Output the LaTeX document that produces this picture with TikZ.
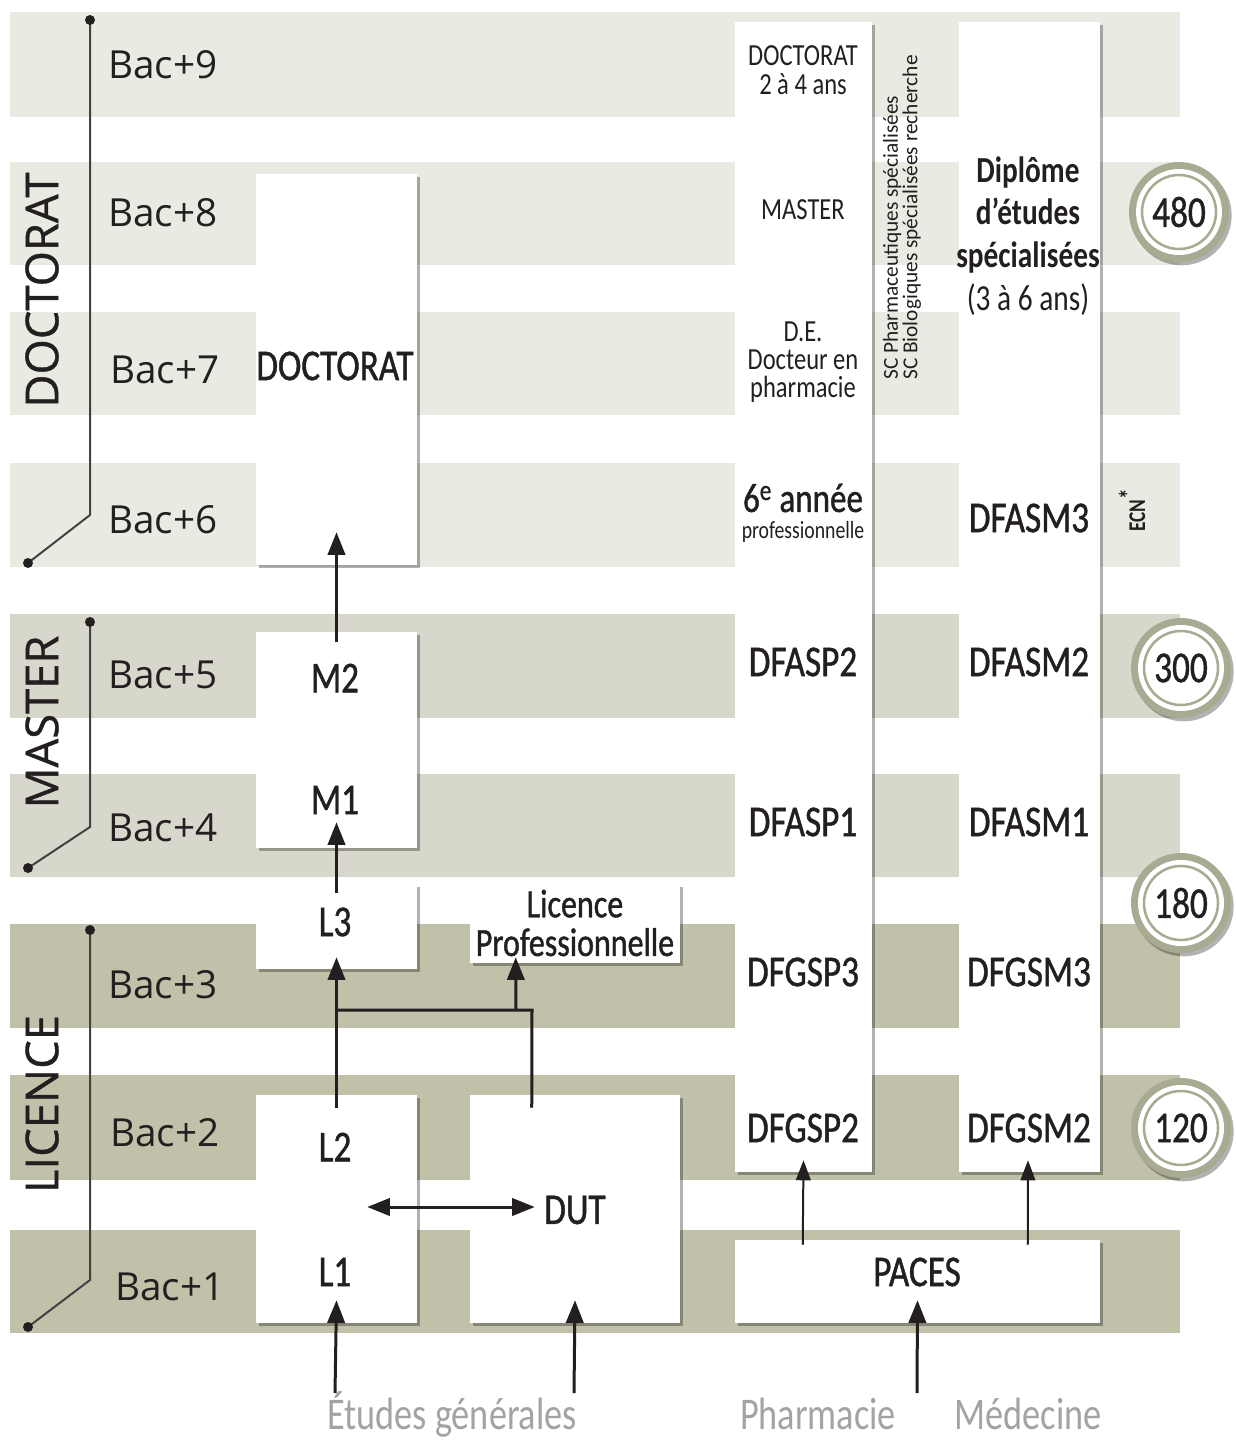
\documentclass[tikz,border=0pt]{standalone}
\usepackage{fontspec}
\setmainfont{Carlito}[FakeStretch=0.8]
\newfontfamily\medfont{Carlito}[FakeStretch=0.8, FakeBold=1.0]
\newfontfamily\widefont{Open Sans}
\newfontfamily\widemed{Open Sans}[FakeBold=0.8]
\newfontfamily\plainfont{Carlito}
\usetikzlibrary{arrows.meta,shadows,fit,calc}
\definecolor{docband}{HTML}{E9EBE2}
\definecolor{masband}{HTML}{D8D7CB}
\definecolor{licband}{HTML}{C1C1A9}
\definecolor{ringcol}{HTML}{A8AA92}
\definecolor{ink}{HTML}{231F20}
\definecolor{graytext}{HTML}{A3A3A3}
\newcommand\myfs[2]{\fontsize{#1}{#2}\selectfont}
\begin{document}
\begin{tikzpicture}[x=0.75pt,y=-0.75pt,
  bandlab/.style={font=\widefont\myfs{29}{32}, text=ink, anchor=west, inner sep=0},
  vlab/.style={font=\widemed\myfs{34}{36}, text=ink, rotate=90, inner sep=0},
  lab/.style={font=\medfont\myfs{33}{36}, text=ink, inner sep=0},
  smalllab/.style={font=\myfs{23}{22}, text=ink, align=center, inner sep=0},
  botlab/.style={font=\myfs{34}{38}, text=graytext, anchor=base, inner sep=0},
  panel/.style={fill=white, inner sep=0, draw=none,
    drop shadow={shadow xshift=2.5pt, shadow yshift=-2.5pt, opacity=0.3, fill=black}},
  ringnode/.style={circle, minimum size=75pt, fill=ringcol, inner sep=0,
    drop shadow={shadow xshift=2pt, shadow yshift=-2.5pt, opacity=0.3, fill=black}},
  arr/.style={draw=ink, line width=2.25pt, -{Triangle[length=17pt,width=13pt]}},
  dblarr/.style={draw=ink, line width=2.25pt, {Triangle[length=17pt,width=13pt]}-{Triangle[length=17pt,width=13pt]}},
  thinarr/.style={draw=ink, line width=1.5pt, -{Triangle[length=15pt,width=11pt]}},
  conn/.style={draw=ink, line width=2.25pt},
  levelline/.style={draw=ink!85, line width=1.5pt},
  dotmark/.style={fill=ink}
]
\useasboundingbox (0,0) rectangle (1235,1442);
% bands
\fill[docband] (10,12) rectangle (1180,117);
\fill[docband] (10,162) rectangle (1180,265);
\fill[docband] (10,312) rectangle (1180,415);
\fill[docband] (10,463) rectangle (1180,567);
\fill[masband] (10,614) rectangle (1180,718);
\fill[masband] (10,774) rectangle (1180,877);
\fill[licband] (10,924) rectangle (1180,1028);
\fill[licband] (10,1075) rectangle (1180,1180);
\fill[licband] (10,1230) rectangle (1180,1333);
% level lines
\draw[levelline] (90,20) -- (90,515) -- (28,563);
\fill[dotmark] (90,20) circle[radius=3.75pt];
\fill[dotmark] (28,563) circle[radius=3.75pt];
\draw[levelline] (90,622) -- (90,827) -- (28,868);
\fill[dotmark] (90,622) circle[radius=3.75pt];
\fill[dotmark] (28,868) circle[radius=3.75pt];
\draw[levelline] (90,930) -- (90,1280) -- (28,1327);
\fill[dotmark] (90,930) circle[radius=3.75pt];
\fill[dotmark] (28,1327) circle[radius=3.75pt];
% level names
\node[vlab] (vdoc) at (42,290) {DOCTORAT};
\node[vlab] (vmas) at (42,722) {MASTER};
\node[vlab] (vlic) at (42,1104) {LICENCE};
% bac labels
\node[bandlab] (b9) at (108,65) {Bac+9};
\node[bandlab] (b8) at (108,213) {Bac+8};
\node[bandlab] (b7) at (110,370) {Bac+7};
\node[bandlab] (b6) at (108,520) {Bac+6};
\node[bandlab] (b5) at (108,675) {Bac+5};
\node[bandlab] (b4) at (108,828) {Bac+4};
\node[bandlab] (b3) at (108,985) {Bac+3};
\node[bandlab] (b2) at (110,1133) {Bac+2};
\node[bandlab] (b1) at (115,1287) {Bac+1};
% panels
\node[panel, fit={(256,174) (417,565)}] (docbox) {};
\node[panel, fit={(256,632) (417,848)}] (mbox) {};
\node[panel, fit={(256,884) (417,969)}] (l3box) {};
\node[panel, fit={(470,884) (680,963)}] (lpbox) {};
\node[panel, fit={(256,1095) (417,1323)}] (lbox) {};
\node[panel, fit={(470,1095) (680,1323)}] (dutbox) {};
\node[panel, fit={(735,1240) (1100,1323)}] (pacesbox) {};
\node[panel, fit={(735,22) (872,1172)}] (pharmcol) {};
\node[panel, fit={(959,22) (1100,1172)}] (medcol) {};
% circles
\foreach \nm/\cx/\cy in {c480/1179/212, c300/1181/668, c180/1181/903, c120/1181/1128}{
  \node[ringnode] (\nm) at (\cx,\cy) {};
  \fill[white] (\nm.center) circle[radius=32.25pt];
  \draw[ringcol, line width=1.9pt] (\nm.center) circle[radius=27.75pt];
}
\node[lab] (n480) at (c480.center) {480};
\node[lab] (n300) at (c300.center) {300};
\node[lab] (n180) at (c180.center) {180};
\node[lab] (n120) at (c120.center) {120};
% left column texts
\node[lab] (tdoc) at (335,366) {DOCTORAT};
\node[lab] (tm2) at (335,678) {M2};
\node[lab] (tm1) at (335,800) {M1};
\node[lab] (tl3) at (335,922) {L3};
\node[lab, font=\medfont\myfs{30}{29}, align=center] (tlp) at (575,923) {Licence\\Professionnelle};
\node[lab] (tl2) at (335,1147) {L2};
\node[lab] (tl1) at (335,1272) {L1};
\node[lab, anchor=west] (tdut) at (544,1210) {DUT};
\node[lab] (tpaces) at (917,1272) {PACES};
% pharmacy column
\node[smalllab] (pdoc) at (803,70) {DOCTORAT\\2 à 4 ans};
\node[smalllab] (pmas) at (803,210) {MASTER};
\node[smalllab, font=\myfs{23}{21}] (pde) at (803,362) {D.E.\\Docteur en\\pharmacie};
\node[lab, font=\medfont\myfs{31}{33}] (p6) at (803,498) {6\textsuperscript{e} année};
\node[lab, font=\myfs{18.5}{20}] (pprof) at (803,532) {professionnelle};
\node[lab] (p1) at (803,662) {DFASP2};
\node[lab] (p2) at (803,822) {DFASP1};
\node[lab] (p3) at (803,972) {DFGSP3};
\node[lab] (p4) at (803,1128) {DFGSP2};
% SC texts
\node[inner sep=0, rotate=90, anchor=west, align=left, text=ink,
  font=\plainfont\myfs{16}{14.5}] (sc) at (902,380)
  {SC Pharmaceutiques spécialisées\\SC Biologiques spécialisées recherche};
% medicine column
\node[inner sep=0, align=center, text=ink, font=\bfseries\myfs{27.5}{32}] (dip) at (1028,236)
  {Diplôme\\d’études\\spécialisées\\{\mdseries (3 à 6 ans)}};
\node[lab] (m0) at (1029,518) {DFASM3};
\node[lab] (m1) at (1029,662) {DFASM2};
\node[lab] (m2) at (1029,822) {DFASM1};
\node[lab] (m3) at (1029,972) {DFGSM3};
\node[lab] (m4) at (1029,1128) {DFGSM2};
\node[inner sep=0, rotate=90, text=ink, font=\bfseries\myfs{18}{18}] (ecn) at (1132,510) {ECN\raisebox{0.3em}{\myfs{20}{20}*}};
% bottom labels
\node[botlab] (etudes) at (452,1429) {Études générales};
\node[botlab] (pharma) at (818,1429) {Pharmacie};
\node[botlab] (medec) at (1028,1429) {Médecine};
% connectors
\draw[arr] ($(mbox.north)+(0,10)$) -- ($(docbox.south)+(0,-33)$);
\draw[arr] ($(l3box.north)+(0,9)$) -- ($(mbox.south)+(0,-26)$);
\draw[arr] ($(lbox.north)+(0,13)$) -- ($(l3box.south)+(0,-12)$);
\coordinate (jL) at (335,1010);
\coordinate (jR) at (532,1010);
\coordinate (jP) at (516,1010);
\draw[conn] ($(dutbox.north west)+(62,13)$) -- (jR) -- (jL);
\draw[arr] (jP) -- ($(lpbox.south west)+(46,-6)$);
\draw[dblarr] ($(lbox.east)+(-50,-2)$) -- ($(dutbox.west)+(65,-2)$);
\coordinate (s1) at (335,1393);
\coordinate (s2) at (574,1393);
\coordinate (s3) at (917,1393);
\draw[arr] (s1) -- ($(lbox.south)+(0,-23)$);
\draw[arr] (s2) -- ($(dutbox.south)+(0,-23)$);
\draw[arr] (s3) -- ($(pacesbox.south)+(0,-23)$);
\draw[thinarr] ($(pacesbox.north west)+(68,5)$) -- ($(pharmcol.south)+(0,-12)$);
\draw[thinarr] ($(pacesbox.north west)+(293,5)$) -- ($(medcol.south)+(-1.5,-12)$);
\end{tikzpicture}
\end{document}
